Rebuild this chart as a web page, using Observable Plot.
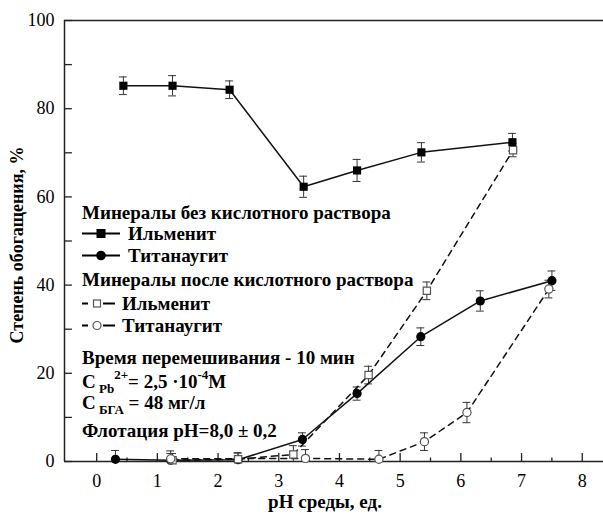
<!DOCTYPE html>
<html><head><meta charset="utf-8">
<script src="https://cdn.jsdelivr.net/npm/d3@7"></script>
<script src="https://cdn.jsdelivr.net/npm/@observablehq/plot@0.6"></script>
<style>
body{margin:0;background:#fff;}
#wrap{position:relative;width:603px;height:518px;font-family:'Liberation Serif';color:#000;}
#wrap svg text{font-family:'Liberation Serif';}
.lg{position:absolute;left:82px;font-family:'Liberation Serif';font-weight:bold;font-size:19px;white-space:nowrap;line-height:1;transform:translateY(-50%);display:flex;align-items:center;}
.lg svg{display:block;}
.lg sub{font-size:13px;vertical-align:-5px;}
.lg sup{font-size:13px;vertical-align:9px;}
.title{position:absolute;font-family:'Liberation Serif';font-weight:bold;font-size:19px;white-space:nowrap;line-height:1;}
</style></head><body><div id="wrap"></div>
<script>
// ---- data ----
const phIlmNo = [0.44, 1.25, 2.19, 3.41, 4.29, 5.35, 6.85];
const ilmNo   = [85.2, 85.2, 84.3, 62.3, 66.0, 70.1, 72.4];
const ilmNoErr= [2.0, 2.3, 2.0, 2.4, 2.5, 2.2, 2.0];

const phTitNo = [0.31, 1.22, 2.33, 3.39, 4.29, 5.34, 6.32, 7.50];
const titNo   = [0.5, 0.3, 0.4, 5.0, 15.4, 28.3, 36.4, 41.0];
const titNoErr= [2.0, 1.5, 1.5, 1.5, 1.5, 2.0, 2.3, 2.2];

const phIlmAc = [1.25, 2.33, 3.24, 4.48, 5.44, 6.86];
const ilmAc   = [0.3, 0.5, 1.6, 19.6, 38.7, 70.6];
const ilmAcErr= [1.5, 1.5, 2.0, 2.0, 2.0, 1.5];

const phTitAc = [1.22, 3.44, 4.65, 5.40, 6.10, 7.45];
const titAc   = [0.6, 0.7, 0.5, 4.5, 11.1, 39.1];
const titAcErr= [1.8, 2.0, 2.0, 2.0, 2.3, 2.0];

const xMajor = [0,1,2,3,4,5,6,7,8];
const xMinor = [0.5,1.5,2.5,3.5,4.5,5.5,6.5,7.5];
const yMajor = [0,20,40,60,80,100];
const yAll   = [0,10,20,30,40,50,60,70,80,90,100];

const xTitle = "pH среды, ед.";
const yTitle = "Степень обогащения, %";

// ---- build rows ----
const rows = (xs, ys, es) => xs.map((x,i)=>({x, y: ys[i], lo: Math.max(0, ys[i]-es[i]), hi: ys[i]+es[i]}));
const sIlmNo = rows(phIlmNo, ilmNo, ilmNoErr);
const sTitNo = rows(phTitNo, titNo, titNoErr);
const sIlmAc = rows(phIlmAc, ilmAc, ilmAcErr);
const sTitAc = rows(phTitAc, titAc, titAcErr);

const xMin = -0.53, xMax = 8.35;
const cap = 0.065;
const errMarks = (d) => [
  Plot.ruleX(d, {x:"x", y1:"lo", y2:"hi", stroke:"#333", strokeWidth:1}),
  Plot.ruleY(d, {y:"hi", x1: r=>r.x-cap, x2: r=>r.x+cap, stroke:"#333", strokeWidth:1}),
  Plot.ruleY(d.filter(r=>r.lo>0), {y:"lo", x1: r=>r.x-cap, x2: r=>r.x+cap, stroke:"#333", strokeWidth:1})
];

const chart = Plot.plot({
  width: 603, height: 518,
  marginLeft: 64, marginRight: 0, marginTop: 20, marginBottom: 57,
  style: "font-family: 'Liberation Serif'; font-size: 18px; color: #000; background: #fff;",
  x: {domain: [xMin, xMax]},
  y: {domain: [0, 100]},
  marks: [
    Plot.ruleY([0, 100], {stroke:"#222", strokeWidth:1.5}),
    Plot.ruleX([xMin], {stroke:"#222", strokeWidth:1.5}),
    Plot.ruleY(yAll, {x1: xMin, x2: xMin + 0.13, stroke:"#222", strokeWidth:1.3}),
    Plot.ruleX(xMajor, {y1: 0, y2: 1.8, stroke:"#222", strokeWidth:1.3}),
    Plot.ruleX(xMinor, {y1: 0, y2: 0.8, stroke:"#222", strokeWidth:1.3}),
    Plot.axisX({ticks: xMajor, tickSize: 0, tickPadding: 13, label: null, tickFormat: d=>String(d)}),
    Plot.axisY({ticks: yMajor, tickSize: 0, tickPadding: 10, label: null, tickFormat: d=>String(d)}),
    ...errMarks(sIlmAc), ...errMarks(sTitAc), ...errMarks(sIlmNo), ...errMarks(sTitNo),
    Plot.line(sIlmAc, {x:"x", y:"y", stroke:"#111", strokeWidth:1.5, strokeDasharray:"6,5"}),
    Plot.line(sTitAc, {x:"x", y:"y", stroke:"#111", strokeWidth:1.5, strokeDasharray:"6,5"}),
    Plot.line(sIlmNo, {x:"x", y:"y", stroke:"#111", strokeWidth:1.5}),
    Plot.line(sTitNo, {x:"x", y:"y", stroke:"#111", strokeWidth:1.5}),
    Plot.dot(sIlmNo, {x:"x", y:"y", symbol:"square", r:4.6, fill:"#000", stroke:"none"}),
    Plot.dot(sTitNo, {x:"x", y:"y", symbol:"circle", r:4.6, fill:"#000", stroke:"none"}),
    Plot.dot(sIlmAc, {x:"x", y:"y", symbol:"square", r:4.1, fill:"#fff", stroke:"#555", strokeWidth:1.2}),
    Plot.dot(sTitAc, {x:"x", y:"y", symbol:"circle", r:4.1, fill:"#fff", stroke:"#555", strokeWidth:1.2})
  ]
});
const wrap = document.getElementById("wrap");
wrap.appendChild(chart);

// ---- axis titles ----
const xt = document.createElement("div");
xt.className = "title"; xt.textContent = xTitle;
xt.style.left = "325px"; xt.style.top = "501px"; xt.style.transform = "translate(-50%,-50%)";
wrap.appendChild(xt);
const yt = document.createElement("div");
yt.className = "title"; yt.textContent = yTitle; yt.style.fontSize = "18px";
yt.style.left = "17px"; yt.style.top = "245px"; yt.style.transform = "translate(-50%,-50%) rotate(-90deg)";
wrap.appendChild(yt);

// ---- legend / annotations ----
const symSvg = (kind) => {
  const ns = "http://www.w3.org/2000/svg";
  const s = document.createElementNS(ns, "svg");
  const filled = kind.startsWith("f");
  const w = filled ? 38 : 33;
  s.setAttribute("width", w); s.setAttribute("height", 12);
  s.style.marginRight = filled ? "8px" : "7px";
  const add = (tag, attrs) => { const e = document.createElementNS(ns, tag); for (const k in attrs) e.setAttribute(k, attrs[k]); s.appendChild(e); };
  if (filled) {
    add("line", {x1:0, x2:w, y1:6, y2:6, stroke:"#000", "stroke-width":1.8});
    if (kind === "fsq") add("rect", {x:w/2-4.5, y:1.5, width:9, height:9, fill:"#000"});
    else add("circle", {cx:w/2, cy:6, r:4.8, fill:"#000"});
  } else {
    add("line", {x1:0, x2:6, y1:6, y2:6, stroke:"#000", "stroke-width":1.8});
    add("line", {x1:21, x2:33, y1:6, y2:6, stroke:"#000", "stroke-width":1.8});
    if (kind === "osq") add("rect", {x:11.5, y:2.5, width:7, height:7, fill:"#fff", stroke:"#555", "stroke-width":1.2});
    else add("circle", {cx:15, cy:6, r:4, fill:"#fff", stroke:"#555", "stroke-width":1.2});
  }
  return s;
};
const legendLines = [
  {y:212, html:"Минералы без кислотного раствора"},
  {y:233, sym:"fsq", html:"Ильменит"},
  {y:255, sym:"fci", html:"Титанаугит"},
  {y:279, html:"Минералы после кислотного раствора"},
  {y:303, sym:"osq", html:"Ильменит"},
  {y:325, sym:"oci", html:"Титанаугит"},
  {y:357, html:"Время перемешивания - 10 мин"},
  {y:381, html:"C<sub>&nbsp;Pb</sub><sup>2+</sup>= 2,5 ·10<sup>-4</sup>M"},
  {y:404, html:"C<sub>&nbsp;БГА</sub> = 48 мг/л"},
  {y:430, html:"Флотация pH=8,0 ± 0,2"}
];
for (const L of legendLines) {
  const d = document.createElement("div");
  d.className = "lg"; d.style.top = L.y + "px";
  if (L.sym) d.appendChild(symSvg(L.sym));
  const sp = document.createElement("span"); sp.innerHTML = L.html; d.appendChild(sp);
  wrap.appendChild(d);
}
</script></body></html>
